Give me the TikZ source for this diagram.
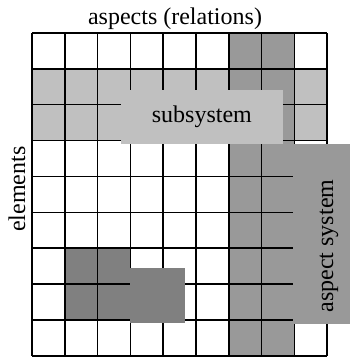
\documentclass[tikz,border=0pt]{standalone}
\usepackage{fontspec}
\setmainfont{Liberation Serif}
\definecolor{subgray}{HTML}{C0C0C0}
\definecolor{aspgray}{HTML}{999999}
\definecolor{partgray}{HTML}{808080}
\begin{document}
\begin{tikzpicture}[line width=1.6pt,font=\fontsize{24}{28}\selectfont]

	\useasboundingbox (0pt,0pt) rectangle (350pt,358pt);

	\begin{scope}[shift={(32pt,2pt)},x=32.8pt,y=35.9pt]
		% shaded rows and columns
		\fill[aspgray] (6,0) rectangle (8,9);
		\fill[subgray] (0,6) rectangle (6,8);
		\fill[subgray] (8,6) rectangle (9,8);
		\fill[partgray] (1,1) rectangle (3,3);

		\foreach \i in {0,...,9} {
			\draw (\i,0) -- (\i,9);
			\draw (0,\i) -- (9,\i);
		}

		\begin{scope}[every node/.style={rectangle,inner sep=0pt,outer sep=0pt}]
			\node[fill=subgray,minimum width=162pt,minimum height=54pt] (subsystem) at (5.18,6.655) {subsystem};
			\node[fill=partgray,minimum width=55pt,minimum height=55pt] (part) at (3.826,1.685) {};
			\node[fill=aspgray,minimum width=57pt,minimum height=180pt] (aspect) at (8.826,3.398) {};
		\end{scope}

		\node[rotate=90] (aspectlabel) at (9.055,3.064) {aspect system};
		\node (aspects) at (4.36,9.39) {aspects (relations)};
		\node[rotate=90] (elements) at (-0.457,4.65) {elements};
	\end{scope}

\end{tikzpicture}
\end{document}
